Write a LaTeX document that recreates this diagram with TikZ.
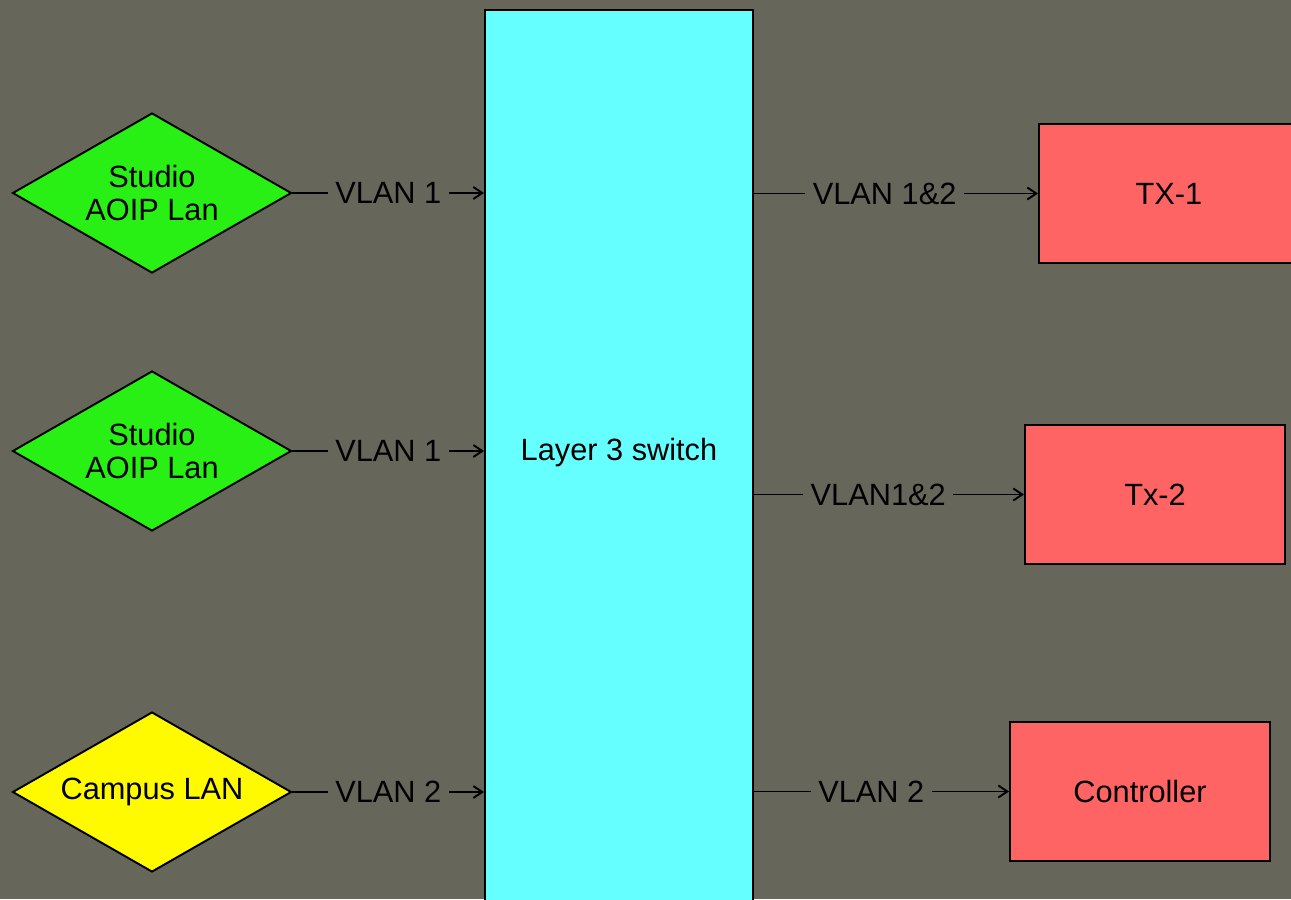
\documentclass[tikz,border=0pt]{standalone}
\usepackage{fontspec}
\setmainfont{Liberation Sans}
\usetikzlibrary{shapes.geometric, arrows.meta, positioning}

\definecolor{bggray}{RGB}{102,103,90}
\definecolor{swcyan}{RGB}{102,255,255}
\definecolor{langreen}{RGB}{40,240,20}
\definecolor{campusyellow}{RGB}{255,250,0}
\definecolor{devred}{RGB}{255,100,100}

\begin{document}
\begin{tikzpicture}[x=0.02cm, y=-0.02cm, font=\fontsize{17.5}{18.5}\selectfont,
	lan/.style={diamond, draw, line width=1.1pt, aspect=1.75, minimum width=5.58cm, minimum height=3.2cm, inner sep=1pt, align=center},
	dev/.style={rectangle, draw, line width=1.1pt, fill=devred, minimum width=5.2cm, minimum height=2.78cm},
	switchbox/.style={rectangle, draw, line width=1.1pt, fill=swcyan, minimum width=5.36cm, minimum height=18.8cm},
	vlan/.style={fill=bggray, inner xsep=0.15cm, inner ysep=1pt},
	link/.style={line width=1.1pt, -{Straight Barb[length=0.18cm,width=0.24cm]}}]

	\useasboundingbox (0,0) rectangle (1291,899);
	\fill[bggray] (0,0) rectangle (1291,899);
	\clip (0,0) rectangle (1291,899);

	\node[switchbox, anchor=north, label={[yshift=0.54cm]center:Layer 3 switch}] (sw) at (619,9) {};

	\node[lan, fill=langreen] (studioA) at (152,193) {Studio\\AOIP Lan};
	\node[lan, fill=langreen] (studioB) at (152,451) {Studio\\AOIP Lan};
	\node[lan, fill=campusyellow] (campus) at (152,792) {Campus LAN};

	\node[dev] (tx1) at (1169,193.5) {TX-1};
	\node[dev] (tx2) at (1155,494.5) {Tx-2};
	\node[dev] (ctrl) at (1140,791.5) {Controller};

	\draw[link] (studioA.east) -- node[vlan] {VLAN 1} (studioA.east -| sw.west);
	\draw[link] (studioB.east) -- node[vlan] {VLAN 1} (studioB.east -| sw.west);
	\draw[link] (campus.east) -- node[vlan] {VLAN 2} (campus.east -| sw.west);

	\draw[link] (sw.east |- tx1.west) -- node[vlan, pos=0.46] {VLAN 1\&2} (tx1.west);
	\draw[link] (sw.east |- tx2.west) -- node[vlan, pos=0.46] {VLAN1\&2} (tx2.west);
	\draw[link] (sw.east |- ctrl.west) -- node[vlan, pos=0.46] {VLAN 2} (ctrl.west);

\end{tikzpicture}
\end{document}
